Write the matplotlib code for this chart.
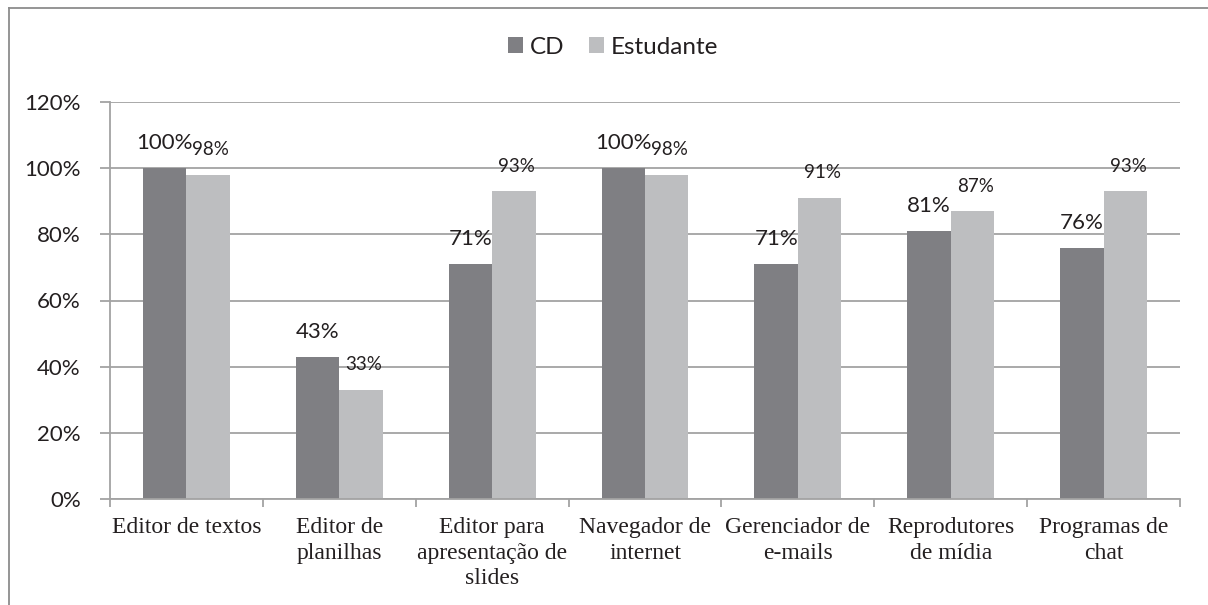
import matplotlib
matplotlib.use("Agg")
import matplotlib.pyplot as plt
import numpy as np
from matplotlib.lines import Line2D
from matplotlib.ticker import FixedLocator, FuncFormatter

categories = ["Editor de textos", "Editor de\nplanilhas", "Editor para\napresentação de\nslides",
              "Navegador de\ninternet", "Gerenciador de\ne-mails", "Reprodutores\nde mídia",
              "Programas de\nchat"]
cd_values = [100, 43, 71, 100, 71, 81, 76]
est_values = [98, 33, 93, 98, 91, 87, 93]
series_names = ["CD", "Estudante"]
yticks = [0, 20, 40, 60, 80, 100, 120]

CD_COLOR = "#7f7f83"
EST_COLOR = "#bdbec0"
GRID = "#a3a3a3"
TXT = "#231f20"
SANS = "Lato"
SERIF = "Liberation Serif"

W, H = 1208, 605
fig = plt.figure(figsize=(W / 100, H / 100), dpi=100)
ax = fig.add_axes([110 / W, 1 - 499 / H, (1180 - 110) / W, (499 - 102) / H])

x = np.arange(len(categories))
bw = 0.284
b1 = ax.bar(x - bw / 2, cd_values, bw, color=CD_COLOR, label=series_names[0], zorder=3)
b2 = ax.bar(x + bw / 2, est_values, bw, color=EST_COLOR, label=series_names[1], zorder=3)

for xi, v in zip(x, cd_values):
    ax.annotate(f"{v}%", (xi - bw / 2, v), xytext=(0, 13.5), textcoords="offset points",
                ha="center", va="baseline", fontsize=16, family=SANS, color=TXT, zorder=4)
for xi, v in zip(x, est_values):
    ax.annotate(f"{v}%", (xi + bw / 2, v), xytext=(2, 14), textcoords="offset points",
                ha="center", va="baseline", fontsize=13.5, family=SANS, color=TXT, zorder=4)

ax.set_xlim(-0.5, len(categories) - 0.5)
ax.set_ylim(0, 120)
ax.set_yticks(yticks)
ax.yaxis.set_major_formatter(FuncFormatter(lambda v, p: f"{int(v)}%"))
ax.grid(axis="y", color=GRID, linewidth=1.3, zorder=0)
ax.tick_params(axis="y", length=7, width=1.3, color=GRID, pad=14, labelsize=16, labelcolor=TXT)
for lab in ax.get_yticklabels():
    lab.set_family(SANS)

ax.set_xticks(x)
ax.set_xticklabels(categories, family=SERIF, fontsize=17, color=TXT, linespacing=1.28)
ax.tick_params(axis="x", which="major", length=0, pad=13)
ax.xaxis.set_minor_locator(FixedLocator(np.arange(len(categories) + 1) - 0.5))
ax.tick_params(axis="x", which="minor", length=6, width=1.3, color=GRID)

for s in ["top", "right"]:
    ax.spines[s].set_visible(False)
ax.spines["left"].set_color(GRID)
ax.spines["bottom"].set_color(GRID)
ax.spines["left"].set_linewidth(1.3)
ax.spines["bottom"].set_linewidth(1.3)
ax.spines["left"].set_zorder(5)
ax.spines["bottom"].set_zorder(5)

leg = fig.legend(handles=[b1, b2], loc="center", bbox_to_anchor=(613 / W, 1 - 47 / H),
                 ncol=2, frameon=False, handlelength=0.62, handleheight=0.62,
                 handletextpad=0.3, columnspacing=1.0,
                 prop={"family": SANS, "size": 17.5})
for t in leg.get_texts():
    t.set_color(TXT)

# outer border (cropped at right and bottom)
fig.add_artist(Line2D([8.5 / W, 8.5 / W], [0, 1 - 7.5 / H], transform=fig.transFigure,
                      color="#8c8c8c", linewidth=1.3))
fig.add_artist(Line2D([8.5 / W, 1], [1 - 7.5 / H, 1 - 7.5 / H], transform=fig.transFigure,
                      color="#8c8c8c", linewidth=1.3))

fig.savefig("out.png", dpi=100)
